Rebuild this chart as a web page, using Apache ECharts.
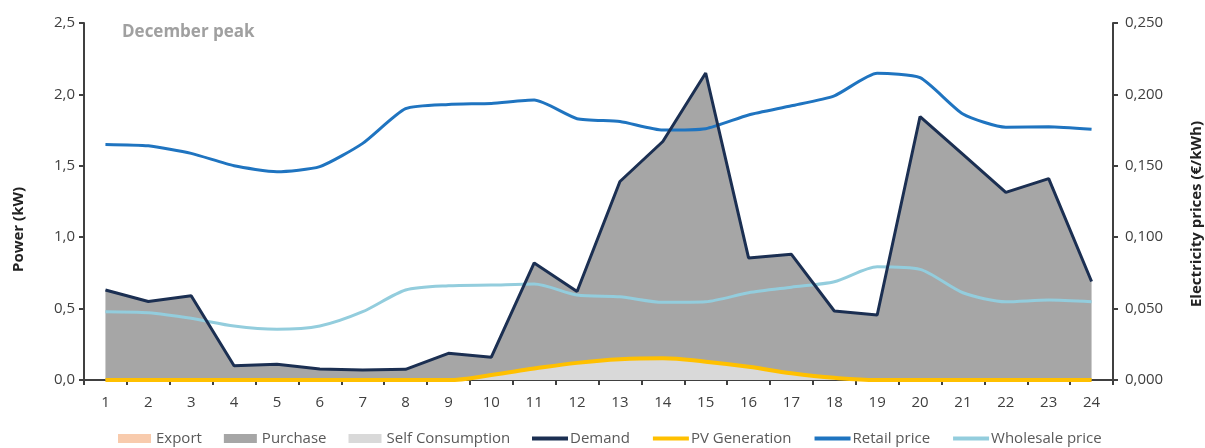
<!DOCTYPE html>
<html>
<head>
<meta charset="utf-8">
<script src="https://cdn.jsdelivr.net/npm/echarts@6/dist/echarts.min.js"></script>
<style>html,body{margin:0;padding:0;background:#fff}#c{width:1205px;height:448px}</style>
</head>
<body>
<div id="c"></div>
<script>
var hours = ['1','2','3','4','5','6','7','8','9','10','11','12','13','14','15','16','17','18','19','20','21','22','23','24'];
var demand = [0.63,0.55,0.59,0.10,0.11,0.077,0.07,0.075,0.187,0.16,0.82,0.62,1.39,1.67,2.15,0.855,0.88,0.483,0.455,1.845,1.58,1.314,1.41,0.69];
var pvGeneration = [0,0,0,0,0,0,0,0,0,0.035,0.08,0.12,0.145,0.152,0.128,0.093,0.047,0.015,0,0,0,0,0,0];
var selfConsumption = [0,0,0,0,0,0,0,0,0,0.035,0.08,0.12,0.145,0.152,0.128,0.093,0.047,0.015,0,0,0,0,0,0];
var purchase = [0.63,0.55,0.59,0.10,0.11,0.077,0.07,0.075,0.187,0.16,0.82,0.62,1.39,1.67,2.15,0.855,0.88,0.483,0.455,1.845,1.58,1.314,1.41,0.69];
var exportPower = [0,0,0,0,0,0,0,0,0,0,0,0,0,0,0,0,0,0,0,0,0,0,0,0];
var retailPrice = [0.165,0.164,0.1587,0.150,0.1459,0.1494,0.1657,0.190,0.193,0.1937,0.196,0.183,0.181,0.175,0.176,0.1856,0.192,0.199,0.2148,0.2117,0.1863,0.177,0.1774,0.1756];
var wholesalePrice = [0.0478,0.0471,0.0432,0.0378,0.0355,0.0378,0.0478,0.063,0.066,0.0665,0.0672,0.0595,0.0583,0.0544,0.0548,0.0611,0.065,0.0688,0.0793,0.0775,0.0611,0.0548,0.056,0.0548];
var powerTicks = ['0,0','0,5','1,0','1,5','2,0','2,5'];
var priceTicks = ['0,000','0,050','0,100','0,150','0,200','0,250'];

var FONT = 'Open Sans';
var axisColor = '#404040';
var chart = echarts.init(document.getElementById('c'), null, {renderer:'canvas'});
chart.setOption({
  animation: false,
  backgroundColor: '#fff',
  textStyle: {fontFamily: FONT},
  title: {
    text: 'December peak', left: 117, top: 19,
    textStyle: {fontFamily: FONT, fontSize: 17, fontWeight: 'bold', color: '#a0a0a0'}
  },
  grid: {left: 84, right: 92, top: 23, bottom: 68, containLabel: false, outerBoundsMode: 'none'},
  legend: [
    {
      top: 431, left: 118, padding: 0, itemWidth: 33, itemHeight: 9, itemGap: 22,
      textStyle: {fontFamily: FONT, fontSize: 15, color: '#595959'},
      data: [
        {name: 'Export', icon: 'rect'},
        {name: 'Purchase', icon: 'rect'},
        {name: 'Self Consumption', icon: 'rect'}
      ]
    },
    {
      top: 431, left: 532, padding: 0, itemWidth: 36, itemHeight: 4, itemGap: 23,
      textStyle: {fontFamily: FONT, fontSize: 15, color: '#595959', padding: [0, 0, 0, -3]},
      data: [
        {name: 'Demand', icon: 'rect'},
        {name: 'PV Generation', icon: 'rect'},
        {name: 'Retail price', icon: 'rect'},
        {name: 'Wholesale price', icon: 'rect'}
      ]
    }
  ],
  xAxis: {
    type: 'category', data: hours, boundaryGap: true,
    axisLine: {lineStyle: {color: axisColor, width: 2}},
    axisTick: {show: true, inside: false, length: 5, lineStyle: {color: axisColor, width: 2}},
    axisLabel: {fontFamily: FONT, fontSize: 15, color: '#404040', margin: 15}
  },
  yAxis: [
    {
      type: 'value', min: 0, max: 2.5, interval: 0.5, position: 'left',
      name: 'Power (kW)', nameLocation: 'middle', nameGap: 58, nameRotate: 90,
      nameTextStyle: {fontFamily: FONT, fontSize: 15, fontWeight: 'bold', color: '#222', padding: [0, 56, 0, 0]},
      axisLine: {show: true, lineStyle: {color: axisColor, width: 2}},
      axisTick: {show: true, length: 5, lineStyle: {color: axisColor, width: 2}},
      splitLine: {show: false},
      axisLabel: {fontFamily: FONT, fontSize: 15, color: '#404040', margin: 9,
        formatter: function(v){ return powerTicks[Math.round(v / 0.5)]; }}
    },
    {
      type: 'value', min: 0, max: 0.25, interval: 0.05, position: 'right',
      name: 'Electricity prices (€/kWh)', nameLocation: 'middle', nameGap: 76, nameRotate: 90,
      nameTextStyle: {fontFamily: FONT, fontSize: 15, fontWeight: 'bold', color: '#222', padding: [0, 25, 0, 0]},
      axisLine: {show: true, lineStyle: {color: axisColor, width: 2}},
      axisTick: {show: true, length: 5, lineStyle: {color: axisColor, width: 2}},
      splitLine: {show: false},
      axisLabel: {fontFamily: FONT, fontSize: 15, color: '#404040', margin: 12,
        formatter: function(v){ return priceTicks[Math.round(v / 0.05)]; }}
    }
  ],
  series: [
    {
      name: 'Export', type: 'line', data: exportPower, symbol: 'none', z: 1,
      lineStyle: {width: 0, color: '#f8cbad'}, itemStyle: {color: '#f8cbad'},
      areaStyle: {color: '#f8cbad', opacity: 1}
    },
    {
      name: 'Purchase', type: 'line', data: purchase, symbol: 'none', z: 2,
      lineStyle: {width: 0, color: '#a6a6a6'}, itemStyle: {color: '#a6a6a6'},
      areaStyle: {color: '#a6a6a6', opacity: 1}
    },
    {
      name: 'Self Consumption', type: 'line', data: selfConsumption, symbol: 'none', z: 3, smooth: 0.4,
      lineStyle: {width: 0, color: '#d9d9d9'}, itemStyle: {color: '#d9d9d9'},
      areaStyle: {color: '#d9d9d9', opacity: 1}
    },
    {
      name: 'Wholesale price', type: 'line', yAxisIndex: 1, data: wholesalePrice, symbol: 'none', z: 4, smooth: 0.25,
      lineStyle: {width: 3, color: '#93cddd'}, itemStyle: {color: '#93cddd'}
    },
    {
      name: 'Retail price', type: 'line', yAxisIndex: 1, data: retailPrice, symbol: 'none', z: 5, smooth: 0.2,
      lineStyle: {width: 3, color: '#1f74c0'}, itemStyle: {color: '#1f74c0'}
    },
    {
      name: 'Demand', type: 'line', data: demand, symbol: 'none', z: 6,
      lineStyle: {width: 3, color: '#1b2f52'}, itemStyle: {color: '#1b2f52'}
    },
    {
      name: 'PV Generation', type: 'line', data: pvGeneration, symbol: 'none', z: 7, smooth: 0.4,
      lineStyle: {width: 4, color: '#ffc000'}, itemStyle: {color: '#ffc000'}
    }
  ]
});
</script>
</body>
</html>
